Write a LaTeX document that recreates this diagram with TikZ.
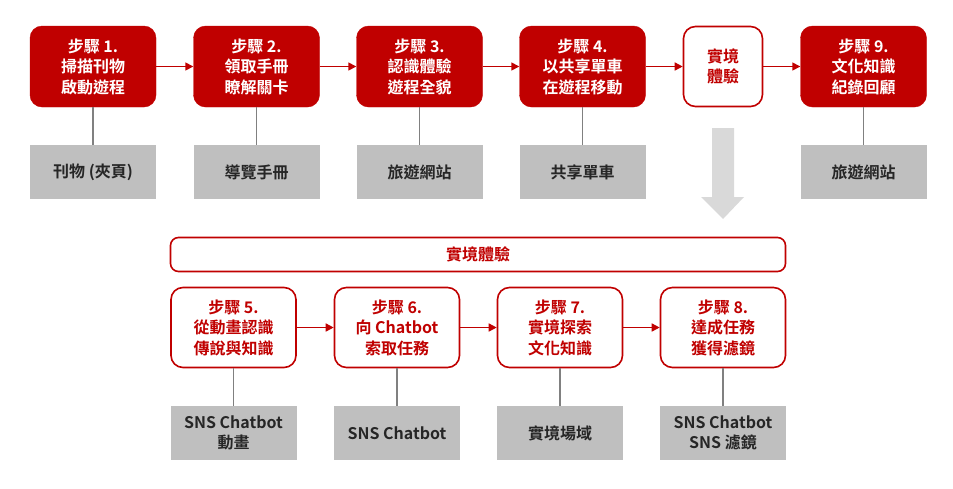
\documentclass[tikz,border=0pt]{standalone}
\usepackage{fontspec}
\setmainfont{Noto Sans CJK TC}[BoldFont={* Bold}]
\usetikzlibrary{arrows.meta,positioning}
\definecolor{cred}{HTML}{C00000}
\definecolor{cgray}{HTML}{BFBFBF}
\definecolor{cline}{HTML}{808080}
\definecolor{carrow}{HTML}{D9D9D9}
\begin{document}
\begin{tikzpicture}[x=1pt,y=-1pt,
  every node/.style={font=\fontsize{16}{20.5}\selectfont\bfseries, align=center, inner sep=0pt},
  redbox/.style={fill=cred, draw=cred, text=white, rounded corners=12pt, minimum width=126pt, minimum height=81pt},
  outbox/.style={fill=white, draw=cred, line width=1.6pt, text=cred, rounded corners=12pt, minimum width=125pt, minimum height=80pt},
  graybox/.style={fill=cgray, text=black!85, minimum width=126pt, minimum height=54pt},
  flow/.style={draw=cred, line width=1.5pt, -{Triangle[length=8pt,width=8pt]}},
  link/.style={draw=cline, line width=1.5pt},
]
\useasboundingbox (0,0) rectangle (953,488);
% top row
\node[redbox] (s1) at (93,66.5) {步驟 1.\\掃描刊物\\啟動遊程};
\node[redbox] (s2) at (256.5,66.5) {步驟 2.\\領取手冊\\瞭解關卡};
\node[redbox] (s3) at (419.5,66.5) {步驟 3.\\認識體驗\\遊程全貌};
\node[redbox] (s4) at (582.5,66.5) {步驟 4.\\以共享單車\\在遊程移動};
\node[outbox, minimum width=79pt] (ar) at (723,66.5) {實境\\體驗};
\node[redbox] (s9) at (863.5,66.5) {步驟 9.\\文化知識\\紀錄回顧};
\draw[flow] (s1) -- (s2);
\draw[flow] (s2) -- (s3);
\draw[flow] (s3) -- (s4);
\draw[flow] (s4) -- (ar);
\draw[flow] (ar) -- (s9);
\node[graybox] (g1) at (93,172) {刊物 (夾頁)};
\node[graybox] (g2) at (256.5,172) {導覽手冊};
\node[graybox] (g3) at (419.5,172) {旅遊網站};
\node[graybox] (g4) at (582.5,172) {共享單車};
\node[graybox] (g9) at (863.5,172) {旅遊網站};
\foreach \a/\b in {s1/g1,s2/g2,s3/g3,s4/g4,s9/g9} \draw[link] (\a) -- (\b);
% big down arrow
\fill[carrow] (712,128) -- (734,128) -- (734,197) -- (744,197) -- (723,219) -- (701,197) -- (712,197) -- cycle;
% banner
\node[fill=white, draw=cred, line width=1.6pt, text=cred, rounded corners=8pt, minimum width=615pt, minimum height=34pt] (ban) at (478,254.5) {實境體驗};
% bottom row
\node[outbox] (s5) at (233.5,327.5) {步驟 5.\\從動畫認識\\傳說與知識};
\node[outbox] (s6) at (397,327.5) {步驟 6.\\向 Chatbot\\索取任務};
\node[outbox] (s7) at (560,327.5) {步驟 7.\\實境探索\\文化知識};
\node[outbox] (s8) at (723,327.5) {步驟 8.\\達成任務\\獲得濾鏡};
\draw[flow] (s5) -- (s6);
\draw[flow] (s6) -- (s7);
\draw[flow] (s7) -- (s8);
\node[graybox] (g5) at (233.5,433) {SNS Chatbot\\動畫};
\node[graybox] (g6) at (397,433) {SNS Chatbot};
\node[graybox] (g7) at (560,433) {實境場域};
\node[graybox] (g8) at (723,433) {SNS Chatbot\\SNS 濾鏡};
\foreach \a/\b in {s5/g5,s6/g6,s7/g7,s8/g8} \draw[link] (\a) -- (\b);
\end{tikzpicture}
\end{document}
